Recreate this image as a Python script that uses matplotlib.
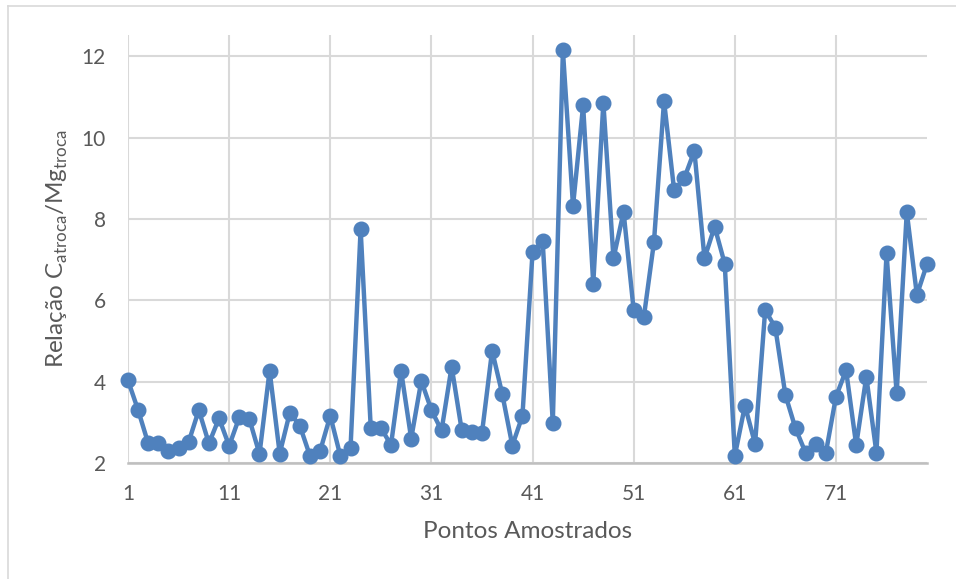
import matplotlib.pyplot as plt
from matplotlib.lines import Line2D

pontos = list(range(1, 81))
relacao = [4.03, 3.30, 2.48, 2.50, 2.30, 2.36, 2.52, 3.30, 2.48, 3.10,
           2.42, 3.12, 3.08, 2.22, 4.27, 2.23, 3.24, 2.91, 2.17, 2.30,
           3.16, 2.17, 2.36, 7.75, 2.87, 2.87, 2.44, 4.27, 2.60, 4.02,
           3.30, 2.80, 4.37, 2.80, 2.76, 2.74, 4.76, 3.70, 2.43, 3.16,
           7.19, 7.46, 2.98, 12.14, 8.32, 10.79, 6.40, 10.86, 7.03, 8.17,
           5.75, 5.58, 7.42, 10.90, 8.70, 9.00, 9.67, 7.03, 7.81, 6.90,
           2.18, 3.41, 2.47, 5.76, 5.33, 3.67, 2.85, 2.25, 2.47, 2.25,
           3.63, 4.28, 2.44, 4.12, 2.25, 7.15, 3.71, 8.17, 6.13, 6.89]
xticks = [1, 11, 21, 31, 41, 51, 61, 71]
yticks = [2, 4, 6, 8, 10, 12]

plt.rcParams['font.family'] = ['Lato', 'DejaVu Sans']
plt.rcParams['mathtext.fontset'] = 'custom'
plt.rcParams['mathtext.rm'] = 'Lato'
cinza = '#595959'

fig = plt.figure(figsize=(9.56, 5.79), dpi=100)
ax = fig.add_axes([128/956, 1 - 463/579, (927 - 128)/956, (463 - 35)/579])

ax.plot(pontos, relacao, color='#4F81BD', linewidth=3.2, marker='o',
        markersize=10.5, zorder=3, clip_on=False)

ax.set_xlim(1, 80)
ax.set_ylim(2, 12.52)
ax.set_xticks(xticks)
ax.set_yticks(yticks)
ax.grid(True, color='#D9D9D9', linewidth=1.5, zorder=0)
ax.set_axisbelow(True)
for s in ['top', 'right', 'left']:
    ax.spines[s].set_visible(False)
ax.spines['bottom'].set_color('#BFBFBF')
ax.spines['bottom'].set_linewidth(1.8)
ax.tick_params(length=0, labelsize=15, labelcolor=cinza)
ax.tick_params(axis='x', pad=15)
ax.tick_params(axis='y', pad=16)

ax.set_xlabel('Pontos Amostrados', fontsize=17.5, color=cinza, labelpad=12)
ax.set_ylabel('Relação C$_\\mathregular{atroca}$/Mg$_\\mathregular{troca}$',
              fontsize=17.5, color=cinza, labelpad=8)

# chart area border (top and left edges visible)
fig.add_artist(Line2D([8/956, 1], [1 - 6/579, 1 - 6/579], color='#D9D9D9', linewidth=1.2))
fig.add_artist(Line2D([8/956, 8/956], [0, 1 - 6/579], color='#D9D9D9', linewidth=1.2))

fig.savefig('out.png', dpi=100)
